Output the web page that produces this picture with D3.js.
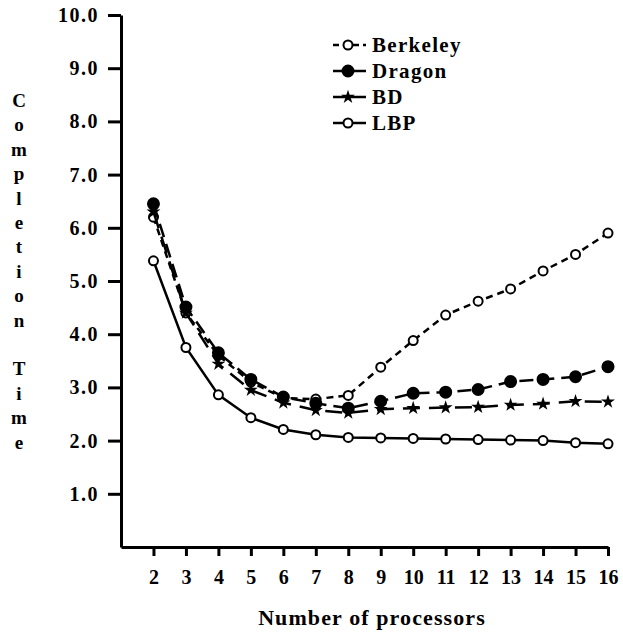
<!DOCTYPE html>
<html>
<head>
<meta charset="utf-8">
<script src="https://cdn.jsdelivr.net/npm/d3@7"></script>
<style>
	html, body { margin: 0; padding: 0; background: #fff; }
	#chart { width: 623px; height: 635px; }
	text { font-family: 'Liberation Serif', 'Times New Roman', serif; font-weight: bold; fill: #000; }
</style>
</head>
<body>
<div id="chart"></div>
<script>
//data
const processors = [2, 3, 4, 5, 6, 7, 8, 9, 10, 11, 12, 13, 14, 15, 16];
const berkeley = [6.2, 4.4, 3.6, 3.1, 2.8, 2.78, 2.85, 3.38, 3.88, 4.36, 4.62, 4.85, 5.19, 5.5, 5.9];
const dragon = [6.45, 4.51, 3.65, 3.15, 2.82, 2.7, 2.61, 2.74, 2.89, 2.91, 2.96, 3.11, 3.15, 3.2, 3.39];
const bd = [6.3, 4.4, 3.44, 2.95, 2.71, 2.57, 2.52, 2.59, 2.61, 2.62, 2.63, 2.67, 2.69, 2.74, 2.73];
const lbp = [5.38, 3.75, 2.86, 2.43, 2.21, 2.11, 2.06, 2.05, 2.04, 2.03, 2.02, 2.01, 2.0, 1.96, 1.94];
const yTicks = [1, 2, 3, 4, 5, 6, 7, 8, 9, 10];
const seriesNames = ['Berkeley', 'Dragon', 'BD', 'LBP'];
const yLabel = 'Completion Time';
const xLabel = 'Number of processors';

render();

function render() {
	let props = {
		width: 623,
		height: 635,
		left: 121,
		right: 608,
		top: 15,
		bottom: 547,
		font: "'Liberation Serif', serif",
	};
	createVisualization(d3.select('#chart'), props);
}

function createVisualization(container, props) {
	let { width, height, left, right, top, bottom, font } = props;

	const x = d3.scaleLinear().domain([1, 16]).range([left, right]);
	const y = d3.scaleLinear().domain([0, 10]).range([bottom, top]);

	const svg = container
		.append('svg')
		.attr('width', width)
		.attr('height', height);

	//axes
	const yAxis = svg
		.append('g')
		.attr('transform', translation(left, 0))
		.call(
			d3.axisLeft(y)
				.tickValues(yTicks)
				.tickFormat(d3.format('.1f'))
				.tickSize(13)
				.tickSizeOuter(0)
				.tickPadding(9)
		);

	const xAxis = svg
		.append('g')
		.attr('transform', translation(0, bottom))
		.call(
			d3.axisBottom(x)
				.tickValues(processors)
				.tickSize(9)
				.tickSizeOuter(0)
				.tickPadding(14)
		);

	[yAxis, xAxis].forEach((g) => {
		g.select('.domain').attr('stroke-width', 3).attr('stroke', '#000');
		g.selectAll('.tick line').attr('stroke-width', 3).attr('stroke', '#000');
		g.selectAll('.tick text')
			.attr('font-family', font)
			.attr('font-weight', 'bold')
			.attr('font-size', 20)
			.attr('fill', '#000');
	});
	yAxis.selectAll('.tick text').attr('letter-spacing', 1.5);

	//axis titles
	svg.append('g')
		.selectAll('text')
		.data(yLabel.split(''))
		.enter()
		.append('text')
		.attr('x', 19)
		.attr('y', (d, i) => 107 + i * 24.4)
		.attr('text-anchor', 'middle')
		.attr('font-size', 19)
		.text((d) => d);

	svg.append('text')
		.attr('x', 372)
		.attr('y', 625)
		.attr('text-anchor', 'middle')
		.attr('font-size', 22)
		.attr('letter-spacing', 1.1)
		.text(xLabel);

	//series
	const series = [
		{ name: seriesNames[0], values: berkeley, dash: '7,5', marker: 'open' },
		{ name: seriesNames[1], values: dragon, dash: '14,7', marker: 'dot' },
		{ name: seriesNames[2], values: bd, dash: '17,9', marker: 'star' },
		{ name: seriesNames[3], values: lbp, dash: null, marker: 'open' },
	];

	const line = d3
		.line()
		.x((d, i) => x(processors[i]))
		.y((d) => y(d));

	const star = d3.symbol().type(d3.symbolStar).size(60);

	series.forEach((s) => {
		const g = svg.append('g');
		g.append('path')
			.attr('d', line(s.values))
			.attr('fill', 'none')
			.attr('stroke', '#000')
			.attr('stroke-width', 2.5)
			.attr('stroke-dasharray', s.dash);
		drawMarkers(g, s.values.map((v, i) => [x(processors[i]), y(v)]), s.marker);
	});

	//legend
	const legend = svg.append('g').attr('transform', translation(333, 45));
	series.forEach((s, i) => {
		const row = legend.append('g').attr('transform', translation(0, i * 26));
		row.append('line')
			.attr('x1', 0)
			.attr('x2', 33)
			.attr('y1', 0)
			.attr('y2', 0)
			.attr('stroke', '#000')
			.attr('stroke-width', 2.5)
			.attr('stroke-dasharray', s.name === 'Berkeley' ? '6,4' : null);
		drawMarkers(row, [[15, 0]], s.marker);
		row.append('text')
			.attr('x', 39)
			.attr('y', 7)
			.attr('font-size', 21)
			.attr('letter-spacing', 1.3)
			.text(s.name);
	});

	function drawMarkers(g, pts, type) {
		if (type === 'star') {
			g.selectAll('.m')
				.data(pts)
				.enter()
				.append('path')
				.attr('class', 'm')
				.attr('d', star)
				.attr('transform', (d) => translation(d[0], d[1]))
				.attr('fill', '#000');
		} else {
			g.selectAll('.m')
				.data(pts)
				.enter()
				.append('circle')
				.attr('class', 'm')
				.attr('cx', (d) => d[0])
				.attr('cy', (d) => d[1])
				.attr('r', type === 'dot' ? 5.5 : 4.5)
				.attr('fill', type === 'dot' ? '#000' : '#fff')
				.attr('stroke', '#000')
				.attr('stroke-width', 2);
		}
	}
}

//utils
function translation(x, y) {
	return `translate(${x}, ${y})`;
}
</script>
</body>
</html>
